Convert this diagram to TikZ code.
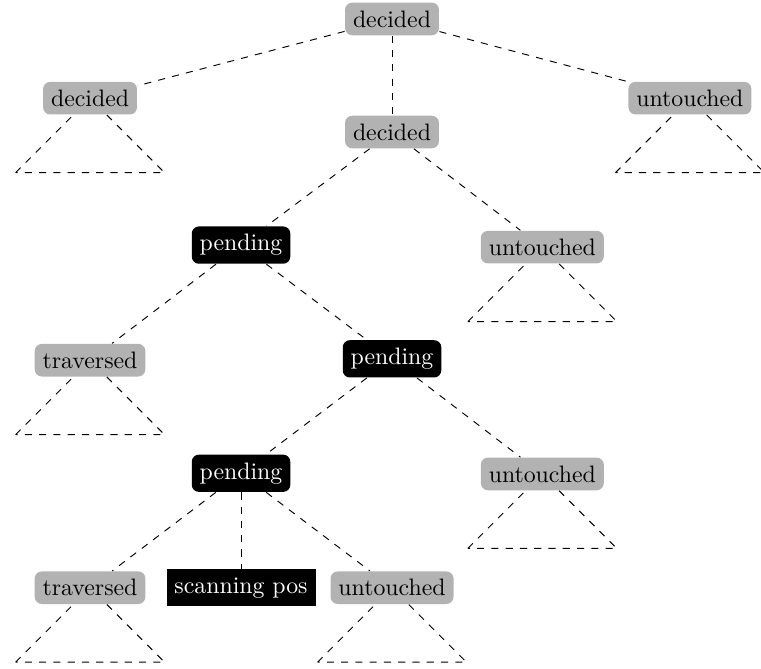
\documentclass[tikz,border=0pt]{standalone}
\begin{document}
\begin{tikzpicture}[
        done/.style={fill=black!30, rounded corners=3pt},
        busy/.style={fill=black, text=white, rounded corners=3pt},
        cursor/.style={fill=black, text=white},
        link/.style={dashed}]
            \useasboundingbox (0,0) rectangle (11.24,-9.87);
            \node[anchor=center,done] at (5.79,-0.28) (root) {decided};
            \node[anchor=center,done] at (1.33,-1.45) (decL) {decided};
            \node[anchor=center,done] at (5.79,-1.95) (decM) {decided};
            \node[anchor=center,done] at (10.19,-1.45) (untR) {untouched};
            \node[anchor=center,busy] at (3.56,-3.62) (pendA) {pending};
            \node[anchor=center,done] at (8.01,-3.65) (untA) {untouched};
            \node[anchor=center,done] at (1.33,-5.32) (travA) {traversed};
            \node[anchor=center,busy] at (5.79,-5.30) (pendB) {pending};
            \node[anchor=center,busy] at (3.56,-6.99) (pendC) {pending};
            \node[anchor=center,done] at (8.01,-7.00) (untB) {untouched};
            \node[anchor=center,done] at (1.33,-8.68) (travB) {traversed};
            \node[anchor=center,cursor] at (3.56,-8.68) (scan) {scanning pos};
            \node[anchor=center,done] at (5.79,-8.68) (untC) {untouched};
            \draw[link] (root) -- (decL);
            \draw[link] (root) -- (decM);
            \draw[link] (root) -- (untR);
            \draw[link] (decM) -- (pendA);
            \draw[link] (decM) -- (untA);
            \draw[link] (pendA) -- (travA);
            \draw[link] (pendA) -- (pendB);
            \draw[link] (pendB) -- (pendC);
            \draw[link] (pendB) -- (untB);
            \draw[link] (pendC) -- (travB);
            \draw[link] (pendC) -- (scan);
            \draw[link] (pendC) -- (untC);
            % collapsed subtrees
            \foreach \n in {decL,untR,untA,travA,untB,travB,untC} {
                \coordinate (\n-l) at ([shift={(-1.1,-1.1)}]\n.center);
                \coordinate (\n-r) at ([shift={(1.1,-1.1)}]\n.center);
                \draw[link] (\n-l) -- (\n) -- (\n-r) -- (\n-l);
            }
        \end{tikzpicture}
\end{document}
